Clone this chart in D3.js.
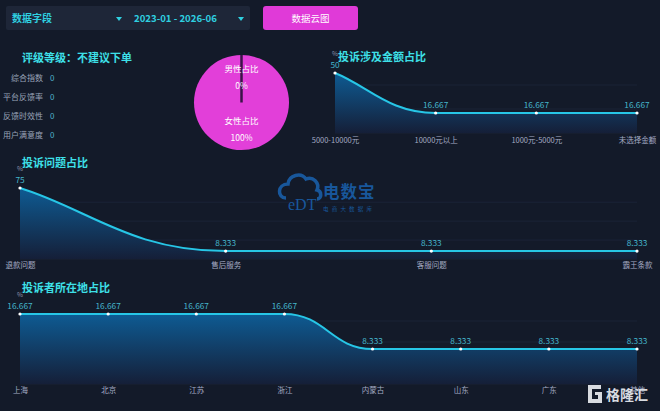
<!DOCTYPE html>
<html><head><meta charset="utf-8">
<script src="https://cdn.jsdelivr.net/npm/d3@7"></script>
<style>
html,body{margin:0;padding:0;background:#131a29;}
svg{display:block;font-family:"Noto Sans CJK SC","Noto Sans",sans-serif;}
</style></head>
<body>
<svg id="c" width="660" height="411"></svg>
<script>
// ---- data ----
const ratingTitle = "评级等级：不建议下单";
const ratingLabels = ["综合指数", "平台反馈率", "反馈时效性", "用户满意度"];
const ratingValues = [0, 0, 0, 0];

const genderLabels = ["男性占比", "女性占比"];
const genderValues = [0, 100];

const amountCats = ["5000-10000元", "10000元以上", "1000元-5000元", "未选择金额"];
const amountVals = [50, 16.667, 16.667, 16.667];

const problemCats = ["退款问题", "售后服务", "客服问题", "霸王条款"];
const problemVals = [75, 8.333, 8.333, 8.333];

const locationCats = ["上海", "北京", "江苏", "浙江", "内蒙古", "山东", "广东", "其他"];
const locationVals = [16.667, 16.667, 16.667, 16.667, 8.333, 8.333, 8.333, 8.333];

const svg = d3.select("#c");
const defs = svg.append("defs");
const grad = defs.append("linearGradient").attr("id","ag").attr("x1",0).attr("y1",0).attr("x2",0).attr("y2",1);
grad.append("stop").attr("offset","0%").attr("stop-color","#0e5b93").attr("stop-opacity",1);
grad.append("stop").attr("offset","100%").attr("stop-color","#151f38").attr("stop-opacity",1);

// ---- top bar ----
svg.append("rect").attr("x",6).attr("y",6).attr("width",244).attr("height",24).attr("rx",2).attr("fill","#1e2638");
svg.append("text").attr("x",12).attr("y",22).attr("fill","#2fd0e0").attr("font-size",10).attr("font-weight","bold").text("数据字段");
svg.append("path").attr("d","M116,17 L122,17 L119,21 Z").attr("fill","#2fd0e0");
svg.append("text").attr("x",134).attr("y",22).attr("fill","#2fd0e0").attr("font-size",9.6).attr("font-weight","bold").text("2023-01 - 2026-06");
svg.append("path").attr("d","M238,17 L244,17 L241,21 Z").attr("fill","#2fd0e0");
svg.append("rect").attr("x",263).attr("y",6).attr("width",95).attr("height",24).attr("rx",3).attr("fill","#e03ad8");
svg.append("text").attr("x",310.5).attr("y",22).attr("text-anchor","middle").attr("fill","#ffffff").attr("font-size",9.5).text("数据云图");

// ---- rating ----
svg.append("text").attr("x",22).attr("y",62).attr("fill","#3ee0e8").attr("font-size",11).attr("font-weight","bold").text(ratingTitle);
ratingLabels.forEach((l,i)=>{
  const y = 81 + i*19;
  svg.append("text").attr("x",43).attr("y",y).attr("text-anchor","end").attr("fill","#9aa3b8").attr("font-size",8).text(l);
  svg.append("text").attr("x",50).attr("y",y).attr("fill","#4fb0c8").attr("font-size",8).text(ratingValues[i]);
});

// ---- pie ----
const pg = svg.append("g").attr("transform","translate(241.5,102.5)");
const pie = d3.pie().sort(null).value(d=>d)(genderValues);
const arc = d3.arc().innerRadius(0).outerRadius(47.5);
pg.selectAll("path.s").data(pie).join("path").attr("class","s").attr("d",arc).attr("fill","#e23fd9");
pg.append("line").attr("x1",0).attr("y1",-47.5).attr("x2",0).attr("y2",0).attr("stroke","#3a1447").attr("stroke-width",2.5);
pg.append("text").attr("y",-31).attr("text-anchor","middle").attr("fill","#fff").attr("font-size",8.5).text(genderLabels[0]);
pg.append("text").attr("y",-14).attr("text-anchor","middle").attr("fill","#fff").attr("font-size",8.5).text(genderValues[0]+"%");
pg.append("text").attr("y",21).attr("text-anchor","middle").attr("fill","#fff").attr("font-size",8.5).text(genderLabels[1]);
pg.append("text").attr("y",38).attr("text-anchor","middle").attr("fill","#fff").attr("font-size",8.5).text(genderValues[1]+"%");

// ---- smooth path (echarts-like, clamped control points) ----
function smoothPath(pts, smooth, baseY){
  const p = d3.path();
  const n = pts.length;
  const cpIn = [], cpOut = [];
  for(let i=0;i<n;i++){
    const [x,y] = pts[i];
    if(i===0 || i===n-1){
      const o = i===0 ? pts[1] : pts[n-2];
      const c = [x + (o[0]-x)*0.33, y + (o[1]-y)*0.33];
      if(i===0) cpOut[i]=c; else cpIn[i]=c;
      continue;
    }
    const [px,py] = pts[i-1], [nx,ny] = pts[i+1];
    const lp = Math.hypot(x-px,y-py), ln = Math.hypot(nx-x,ny-y);
    const r = ln/(ln+lp);
    let vx = nx-px, vy = ny-py;
    let ncx = x + vx*smooth*r, ncy = y + vy*smooth*r;
    ncx = Math.min(ncx, Math.max(nx,x)); ncx = Math.max(ncx, Math.min(nx,x));
    ncy = Math.min(ncy, Math.max(ny,y)); ncy = Math.max(ncy, Math.min(ny,y));
    vx = ncx-x; vy = ncy-y;
    let cx = x - vx*lp/ln, cy = y - vy*lp/ln;
    cx = Math.min(cx, Math.max(px,x)); cx = Math.max(cx, Math.min(px,x));
    cy = Math.min(cy, Math.max(py,y)); cy = Math.max(cy, Math.min(py,y));
    vx = x-cx; vy = y-cy;
    ncx = x + vx*ln/lp; ncy = y + vy*ln/lp;
    cpIn[i]=[cx,cy]; cpOut[i]=[ncx,ncy];
  }
  p.moveTo(pts[0][0],pts[0][1]);
  for(let i=1;i<n;i++){
    p.bezierCurveTo(cpOut[i-1][0],cpOut[i-1][1],cpIn[i][0],cpIn[i][1],pts[i][0],pts[i][1]);
  }
  if(baseY!==undefined){
    p.lineTo(pts[n-1][0],baseY); p.lineTo(pts[0][0],baseY); p.closePath();
  }
  return p.toString();
}

// ---- line/area chart helper ----
function lineChart(opt){
  const {cats, vals, x0, x1, yTop, yBot, max, title, tx, ty, labY} = opt;
  const g = svg.append("g");
  const x = d3.scalePoint().domain(cats).range([x0,x1]);
  const y = d3.scaleLinear().domain([0,max]).range([yBot,yTop]);
  const ticks = y.ticks(opt.nt||4);
  g.selectAll("line.g").data(ticks).join("line").attr("class","g")
    .attr("x1",x0).attr("x2",x1).attr("y1",d=>y(d)).attr("y2",d=>y(d))
    .attr("stroke","#1b2337").attr("stroke-width",1);
  const data = cats.map((c,i)=>({c,v:vals[i]}));
  const pts = data.map(d=>[x(d.c), y(d.v)]);
  g.append("path").attr("d",smoothPath(pts,0.45,yBot)).attr("fill","url(#ag)");
  g.append("path").attr("d",smoothPath(pts,0.45)).attr("fill","none").attr("stroke","#27c6e6").attr("stroke-width",2);
  g.selectAll("circle").data(data).join("circle").attr("cx",d=>x(d.c)).attr("cy",d=>y(d.v)).attr("r",1.6).attr("fill","#ffffff");
  g.selectAll("text.v").data(data).join("text").attr("class","v")
    .attr("x",d=>x(d.c)).attr("y",d=>y(d.v)-5).attr("text-anchor","middle")
    .attr("fill","#45b6cc").attr("font-size",8.3).text(d=>d.v);
  const ax = d3.axisBottom(x).tickSize(0).tickPadding(0);
  const ag = g.append("g").attr("transform",`translate(0,${labY})`).call(ax);
  ag.select(".domain").remove();
  ag.selectAll("text").attr("fill","#a4abc4").attr("font-size",7.5).attr("font-family","Noto Sans CJK SC, sans-serif");
  g.append("text").attr("x",x0).attr("y",yTop-17).attr("text-anchor","middle").attr("fill","#8a93aa").attr("font-size",6.5).text("%");
  g.append("text").attr("x",tx).attr("y",ty).attr("fill","#3ee0e8").attr("font-size",11).attr("font-weight","bold").text(title);
}

lineChart({cats:amountCats, vals:amountVals, x0:335, x1:637, yTop:73, yBot:133, max:50,
  title:"投诉涉及金额占比", tx:338, ty:61, labY:138, nt:2});
lineChart({cats:problemCats, vals:problemVals, x0:20, x1:637, yTop:188, yBot:259, max:75,
  title:"投诉问题占比", tx:22, ty:167, labY:263, nt:3});
lineChart({cats:locationCats, vals:locationVals, x0:20, x1:637, yTop:314, yBot:384, max:16.667,
  title:"投诉者所在地占比", tx:22, ty:292, labY:388, nt:3});

// ---- watermarks ----
const wm = svg.append("g").attr("opacity",0.85);
wm.append("path").attr("d","M286,198 C277,198 277,184 288,184 C289,175 301,172 306,179 C313,176 320,183 317,190 C322,191 322,199 317,199")
  .attr("fill","none").attr("stroke","#1a62b0").attr("stroke-width",3.5);
wm.append("text").attr("x",288).attr("y",210).attr("fill","#1a62b0").attr("font-size",16).attr("font-family","Liberation Serif, serif").text("eDT");
wm.append("text").attr("x",323).attr("y",198).attr("fill","#1a62b0").attr("font-size",16.5).attr("font-weight","bold").attr("letter-spacing",1).text("电数宝");
wm.append("text").attr("x",323).attr("y",211).attr("fill","#1a62b0").attr("font-size",5.5).attr("letter-spacing",3.2).text("电商大数据库");

const wm2 = svg.append("g");
wm2.append("path").attr("d","M588,385 h13 v4 h-9 v10 h6 v-4 h-3 v-3 h7 v11 h-14 Z").attr("fill","#d8dbe0");
wm2.append("text").attr("x",606).attr("y",400).attr("fill","#d8dbe0").attr("font-size",14).attr("font-weight","bold").text("格隆汇");
</script>
</body></html>
